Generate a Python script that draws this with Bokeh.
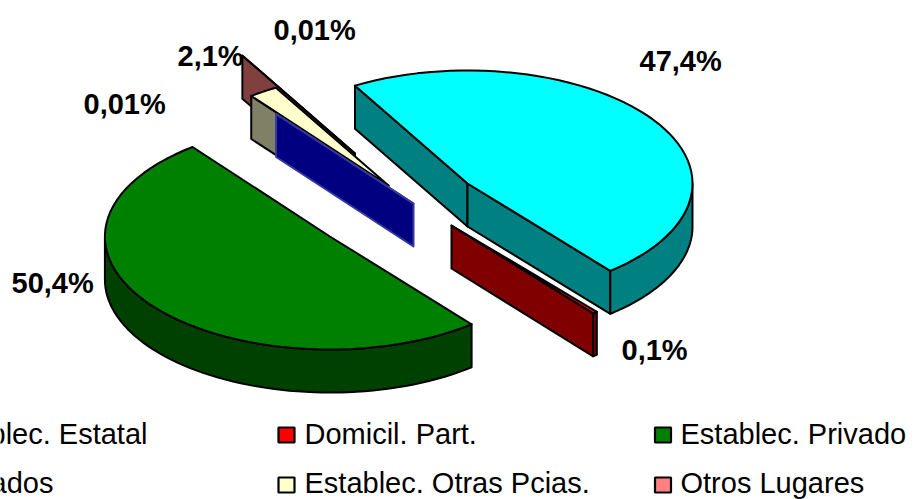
import math
from bokeh.plotting import figure
from bokeh.embed import file_html
from bokeh.resources import INLINE
from bokeh.core.properties import value

# ---- data ----
categories = ["Establec. Estatal", "Domicil. Part.", "Establec. Privado", "ados", "Establec. Otras Pcias.", "Otros Lugares"]
shares = [47.4, 0.1, 50.4, 0.01, 2.1, 0.01]
slice_labels = ["47,4%", "0,1%", "50,4%", "0,01%", "2,1%", "0,01%"]

# ---- styles ----
top_colors = ["#00FFFF", "#FF0000", "#008000", "#0000FF", "#FFFFCC", "#FF8080"]
side_colors = ["#008080", "#800000", "#004000", "#000080", "#808066", "#804040"]
edge_colors = ["black", "black", "black", "#3636A0", "black", "black"]
draw_order = [5, 4, 3, 2, 0, 1]

# ---- layout (pixels of the picture) ----
W, H = 913, 499
RX, RY, DEPTH = 225.0, 113.0, 43.0
START = -30.0
MIN_OUTER_SWEEP = 1.2  # a slice whose outer wall faces the viewer stays visible at this sweep
apex_x = [467.0, 451.0, 329.4, 413.0, 388.0, 354.5]
apex_y = [183.0, 225.0, 236.0, 203.0, 185.0, 153.0]
label_x = [639, 621, 11, 83, 177, 273]
label_y = [60, 349, 282, 103, 55, 29]
legend_sw_x = [None, 286, 662.5, None, 286, 662.5]
legend_sw_y = [None, 434.5, 434.5, None, 484.5, 484.5]
legend_txt_x = [147, 304, 680, 53, 304, 680]
legend_base = [433, 433, 433, 482, 482, 482]

p = figure(width=W, height=H, x_range=(0, W), y_range=(H, 0), output_backend="svg",
           toolbar_location=None, min_border=0, outline_line_color=None)
p.axis.visible = False
p.grid.visible = False


def pt(ax, ay, t, dy=0.0):
    r = math.radians(t)
    return ax + RX * math.sin(r), ay - RY * math.cos(r) + dy


def arc(ax, ay, t0, t1, dy=0.0, n=60):
    n = max(2, n)
    return [pt(ax, ay, t0 + (t1 - t0) * i / n, dy) for i in range(n + 1)]


def poly(pts, fill, edge, lw=2.0):
    p.patch([q[0] for q in pts], [q[1] for q in pts], fill_color=fill, line_color=edge, line_width=lw,
            line_join="round")


total = sum(shares)
angles = [START]
for s in shares:
    angles.append(angles[-1] + s / total * 360.0)

for i in draw_order:
    t0, t1 = angles[i], angles[i + 1]
    if 90.0 < t1 < 270.0:
        t0 = min(t0, t1 - MIN_OUTER_SWEEP)
    ax, ay = apex_x[i], apex_y[i]
    side, top, edge = side_colors[i], top_colors[i], edge_colors[i]
    if math.sin(math.radians(t0)) < 0:
        a = pt(ax, ay, t0)
        poly([(ax, ay), a, (a[0], a[1] + DEPTH), (ax, ay + DEPTH)], side, edge)
    if math.sin(math.radians(t1)) > 0:
        a = pt(ax, ay, t1)
        poly([(ax, ay), a, (a[0], a[1] + DEPTH), (ax, ay + DEPTH)], side, edge)
    lo, hi = max(t0, 90.0), min(t1, 270.0)
    if hi > lo:
        up = arc(ax, ay, lo, hi)
        dn = arc(ax, ay, hi, lo, DEPTH)
        poly(up + dn, side, edge)
    poly([(ax, ay)] + arc(ax, ay, t0, t1), top, edge)

p.text(label_x, label_y, text=slice_labels, text_font=value("Liberation Sans"), text_font_style="bold",
       text_font_size="29px", text_color="black", text_align="left", text_baseline="alphabetic")

for i, c in enumerate(categories):
    if legend_sw_x[i] is not None:
        p.rect([legend_sw_x[i]], [legend_sw_y[i]], width=16, height=15, fill_color=top_colors[i],
               line_color="black", line_width=2.2)
    p.text([legend_txt_x[i]], [legend_base[i]], text=[c], text_font=value("Liberation Sans"),
           text_font_size="29px", text_color="black",
           text_align="left" if legend_sw_x[i] is not None else "right", text_baseline="alphabetic")

open("out.html", "w").write(file_html(p, INLINE))
